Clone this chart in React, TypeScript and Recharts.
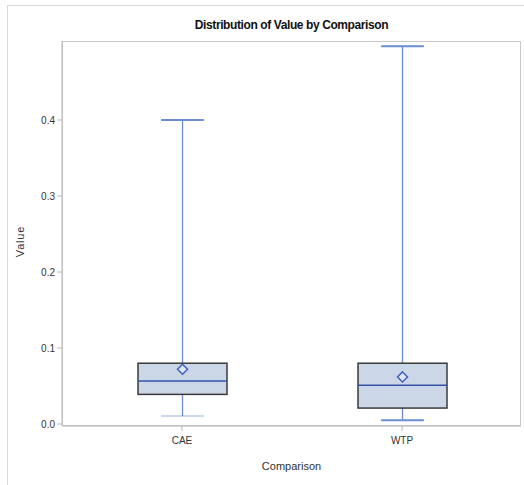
import React from 'react';
import { ComposedChart, Bar, XAxis, YAxis } from 'recharts';

// Box plot summary per comparison group
const categories = ['CAE', 'WTP'];
const whiskerLow = [0.0105, 0.005];
const q1 = [0.039, 0.021];
const median = [0.0565, 0.051];
const q3 = [0.08, 0.08];
const whiskerHigh = [0.4, 0.497];
const means = [0.072, 0.062];
const yTicks = [0, 0.1, 0.2, 0.3, 0.4];

const FONT = '"Liberation Sans Narrow", "Arial Narrow", "Liberation Sans", Arial, sans-serif';

const data = categories.map((name, i) => ({
  name,
  range: [whiskerLow[i], whiskerHigh[i]],
  q1: q1[i],
  median: median[i],
  q3: q3[i],
  mean: means[i],
}));

const BoxShape = (props: any) => {
  const { x, y, width, height, payload, index } = props;
  if (!payload) return null;
  const [lo, hi] = payload.range;
  const top = Math.min(y, y + height);
  const bot = Math.max(y, y + height);
  const toPx = (v: number) => bot - ((v - lo) / (hi - lo)) * (bot - top);
  const cx = x + width / 2;
  const capW = width * 0.48;
  const yQ1 = toPx(payload.q1);
  const yQ3 = toPx(payload.q3);
  const yMed = toPx(payload.median);
  const yMean = toPx(payload.mean);
  const whisker = '#6b8bd2';
  const d = 5;
  return (
    <g>
      <line x1={cx} x2={cx} y1={top} y2={yQ3} stroke={whisker} strokeWidth={1.3} />
      <line x1={cx} x2={cx} y1={yQ1} y2={bot} stroke={whisker} strokeWidth={1.3} />
      <line x1={cx - capW / 2} x2={cx + capW / 2} y1={top} y2={top} stroke={whisker} strokeWidth={2} />
      <line
        x1={cx - capW / 2}
        x2={cx + capW / 2}
        y1={bot}
        y2={bot}
        stroke={whisker}
        strokeWidth={2}
        strokeOpacity={index === 0 ? 0.35 : 1}
      />
      <rect x={x} y={yQ3} width={width} height={yQ1 - yQ3} fill="#cbd6e7" stroke="#3a3a3a" strokeWidth={1.5} />
      <line x1={x} x2={x + width} y1={yMed} y2={yMed} stroke="#3453a8" strokeWidth={1.5} />
      <path
        d={`M${cx},${yMean - d} L${cx + d},${yMean} L${cx},${yMean + d} L${cx - d},${yMean} Z`}
        fill="#dfe6f3"
        stroke="#3f62bd"
        strokeWidth={1.5}
      />
    </g>
  );
};

const YLabel = (props: any) => {
  const vb = props.viewBox || {};
  const cx = 20;
  const cy = vb.y + vb.height / 2 + 8;
  return (
    <text
      x={cx}
      y={cy}
      transform={`rotate(-90, ${cx}, ${cy})`}
      textAnchor="middle"
      dominantBaseline="central"
      fontSize={11}
      letterSpacing={0.8}
      fill="#333"
      fontFamily={FONT}
    >
      Value
    </text>
  );
};

export default function App() {
  return (
    <div
      style={{
        position: 'absolute',
        left: 0,
        top: 0,
        width: 524,
        height: 485,
        background: '#fff',
        fontFamily: FONT,
      }}
    >
      {/* outer figure frame (left + top) */}
      <div
        style={{
          position: 'absolute',
          left: 7,
          top: 5,
          right: 0,
          bottom: 0,
          borderLeft: '1px solid #d8d8d8',
          borderTop: '1px solid #d8d8d8',
        }}
      />
      <div
        style={{
          position: 'absolute',
          left: 62,
          width: 459,
          top: 18,
          textAlign: 'center',
          fontWeight: 'bold',
          fontSize: 12,
          letterSpacing: -0.4,
          color: '#111',
        }}
      >
        Distribution of Value by Comparison
      </div>
      {/* plot frame */}
      <div
        style={{
          position: 'absolute',
          left: 62,
          top: 41,
          width: 459,
          height: 385,
          border: '1px solid #c8c8c8',
          boxSizing: 'border-box',
          pointerEvents: 'none',
        }}
      />
      <div style={{ position: 'absolute', left: 0, top: 0 }}>
        <ComposedChart
          width={524}
          height={485}
          data={data}
          margin={{ top: 41, right: 3, left: 22, bottom: 14 }}
        >
          <XAxis
            dataKey="name"
            type="category"
            height={45}
            padding={{ left: 10, right: 9 }}
            axisLine={{ stroke: '#b8b8b8' }}
            tickLine={{ stroke: '#b8b8b8' }}
            tickSize={5}
            tickMargin={6}
            tick={{ fontSize: 10, fill: '#333', fontFamily: FONT }}
            label={{
              value: 'Comparison',
              position: 'insideBottom',
              offset: 1,
              fontSize: 11,
              fill: '#333',
              fontFamily: FONT,
            }}
          />
          <YAxis
            type="number"
            width={40}
            domain={[-0.0026, 0.504]}
            allowDataOverflow
            ticks={yTicks}
            tickFormatter={(v: number) => v.toFixed(1)}
            axisLine={{ stroke: '#b8b8b8' }}
            tickLine={{ stroke: '#b8b8b8' }}
            tickSize={5}
            tick={{ fontSize: 10, fill: '#333', fontFamily: FONT }}
            label={<YLabel />}
          />
          <Bar dataKey="range" barSize={89} shape={BoxShape} isAnimationActive={false} />
        </ComposedChart>
      </div>
    </div>
  );
}
